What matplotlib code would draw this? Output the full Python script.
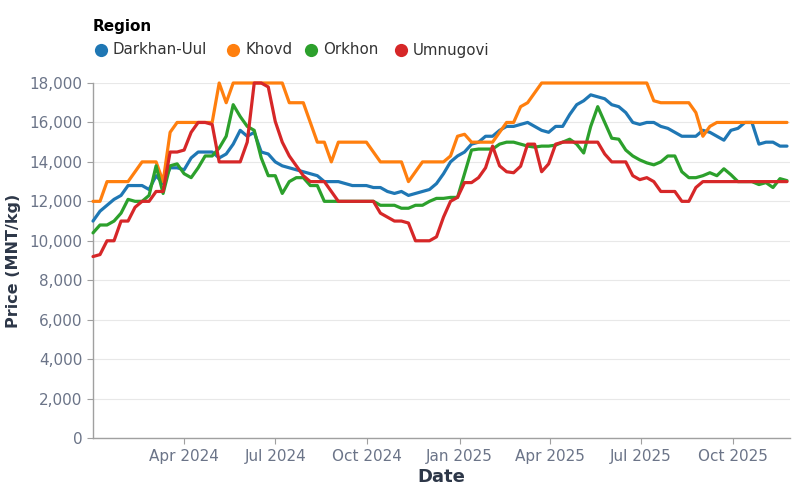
import matplotlib
matplotlib.use("Agg")
import matplotlib.pyplot as plt
from matplotlib.lines import Line2D
import pandas as pd
import numpy as np

dates = pd.date_range("2024-01-01", periods=100, freq="7D")

darkhan_uul = [11000, 11500, 11800, 12100, 12300, 12800, 12800, 12800, 12600, 13300,
               12900, 13700, 13700, 13600, 14200, 14500, 14500, 14500, 14200, 14400,
               14900, 15600, 15300, 15500, 14500, 14400, 14000, 13800, 13700, 13600,
               13500, 13400, 13300, 13000, 13000, 13000, 12900, 12800, 12800, 12800,
               12700, 12700, 12500, 12400, 12500, 12300, 12400, 12500, 12600, 12900,
               13400, 14000, 14300, 14500, 14900, 15000, 15300, 15300, 15600, 15800,
               15800, 15900, 16000, 15800, 15600, 15500, 15800, 15800, 16400, 16900,
               17100, 17400, 17300, 17200, 16900, 16800, 16500, 16000, 15900, 16000,
               16000, 15800, 15700, 15500, 15300, 15300, 15300, 15600, 15500, 15300,
               15100, 15600, 15700, 16000, 16000, 14900, 15000, 15000, 14800, 14800]

khovd = [12000, 12000, 13000, 13000, 13000, 13000, 13500, 14000, 14000, 14000,
         13000, 15500, 16000, 16000, 16000, 16000, 16000, 16000, 18000, 17000,
         18000, 18000, 18000, 18000, 18000, 18000, 18000, 18000, 17000, 17000,
         17000, 16000, 15000, 15000, 14000, 15000, 15000, 15000, 15000, 15000,
         14500, 14000, 14000, 14000, 14000, 13000, 13500, 14000, 14000, 14000,
         14000, 14300, 15300, 15400, 15000, 15000, 15000, 15000, 15500, 16000,
         16000, 16800, 17000, 17500, 18000, 18000, 18000, 18000, 18000, 18000,
         18000, 18000, 18000, 18000, 18000, 18000, 18000, 18000, 18000, 18000,
         17100, 17000, 17000, 17000, 17000, 17000, 16500, 15300, 15800, 16000,
         16000, 16000, 16000, 16000, 16000, 16000, 16000, 16000, 16000, 16000]

orkhon = [10400, 10800, 10800, 11000, 11400, 12100, 12000, 12000, 12300, 13800,
          12400, 13800, 13900, 13400, 13200, 13700, 14300, 14300, 14700, 15300,
          16900, 16300, 15800, 15600, 14200, 13300, 13300, 12400, 13000, 13200,
          13200, 12800, 12800, 12000, 12000, 12000, 12000, 12000, 12000, 12000,
          12000, 11800, 11800, 11800, 11650, 11650, 11800, 11800, 12000, 12150,
          12150, 12200, 12200, 13400, 14600, 14650, 14650, 14650, 14900, 15000,
          15000, 14900, 14800, 14750, 14800, 14800, 14850, 15000, 15150, 14900,
          14450, 15800, 16800, 16000, 15200, 15150, 14600, 14300, 14100, 13950,
          13850, 14000, 14300, 14300, 13500, 13200, 13200, 13300, 13450, 13300,
          13650, 13350, 13000, 13000, 13000, 12850, 12950, 12700, 13150, 13050]

umnugovi = [9200, 9300, 10000, 10000, 11000, 11000, 11700, 12000, 12000, 12500,
            12500, 14500, 14500, 14600, 15500, 16000, 16000, 15900, 14000, 14000,
            14000, 14000, 15000, 18000, 18000, 17800, 16050, 15000, 14300, 13800,
            13300, 13000, 13000, 13000, 12500, 12000, 12000, 12000, 12000, 12000,
            12000, 11400, 11200, 11000, 11000, 10900, 10000, 10000, 10000, 10200,
            11200, 12000, 12200, 12950, 12950, 13200, 13700, 14800, 13800, 13500,
            13450, 13780, 14900, 14900, 13500, 13900, 14900, 15000, 15000, 15000,
            15000, 15000, 15000, 14400, 14000, 14000, 14000, 13300, 13100, 13200,
            13000, 12500, 12500, 12500, 12000, 12000, 12700, 13000, 13000, 13000,
            13000, 13000, 13000, 13000, 13000, 13000, 13000, 13000, 13000, 13000]

regions = ["Darkhan-Uul", "Khovd", "Orkhon", "Umnugovi"]
series = [darkhan_uul, khovd, orkhon, umnugovi]
colors = ["#1f77b4", "#ff7f0e", "#2ca02c", "#d62728"]

tick_dates = pd.to_datetime(["2024-04-01", "2024-07-01", "2024-10-01", "2025-01-01",
                             "2025-04-01", "2025-07-01", "2025-10-01"])
tick_labels = ["Apr 2024", "Jul 2024", "Oct 2024", "Jan 2025", "Apr 2025", "Jul 2025", "Oct 2025"]

plt.rcParams["font.family"] = ["DejaVu Sans"]
fig = plt.figure(figsize=(8, 5), dpi=100)
ax = fig.add_axes([93/800, 1-438/500, (790-93)/800, (438-83)/500])

for vals, c in zip(series, colors):
    ax.plot(dates, vals, color=c, lw=2.3, solid_capstyle="round", solid_joinstyle="round",
            clip_on=False, zorder=3)

ax.set_ylim(0, 18000)
ax.set_xlim(dates[0], dates[-1] + pd.Timedelta(days=3))
ax.set_yticks(np.arange(0, 18001, 2000))
ax.set_yticklabels([f"{v:,}" for v in range(0, 18001, 2000)])
ax.set_xticks(tick_dates)
ax.set_xticklabels(tick_labels)

ax.grid(True, axis="y", color="#e8e8e8", lw=0.8, zorder=0)
ax.set_axisbelow(True)
for s in ["top", "right"]:
    ax.spines[s].set_visible(False)
for s in ["left", "bottom"]:
    ax.spines[s].set_color("#a0a0a0")
    ax.spines[s].set_linewidth(1.0)
ax.tick_params(axis="both", colors="#a0a0a0", labelcolor="#6b7488", labelsize=11,
               length=4, width=0.8)
ax.tick_params(axis="x", pad=4)

ax.set_xlabel("Date", fontsize=13, fontweight="bold", color="#2d3748", labelpad=3)
ax.set_ylabel("Price (MNT/kg)", fontsize=11.5, fontweight="bold", color="#2d3748", labelpad=6)

# Legend
fig.text(93/800, 1-27/500, "Region", fontsize=11, fontweight="bold", color="black",
         va="center", ha="left")
leg_x = [101, 233, 311, 401]
for x, name, c in zip(leg_x, regions, colors):
    fig.add_artist(Line2D([x/800], [1-50/500], marker="o", markersize=9.5, color=c,
                          markeredgewidth=0, transform=fig.transFigure, linestyle="none"))
    fig.text((x+12)/800, 1-50/500, name, fontsize=10.8, color="#333333",
             va="center", ha="left")

fig.savefig("out.png", dpi=100)
